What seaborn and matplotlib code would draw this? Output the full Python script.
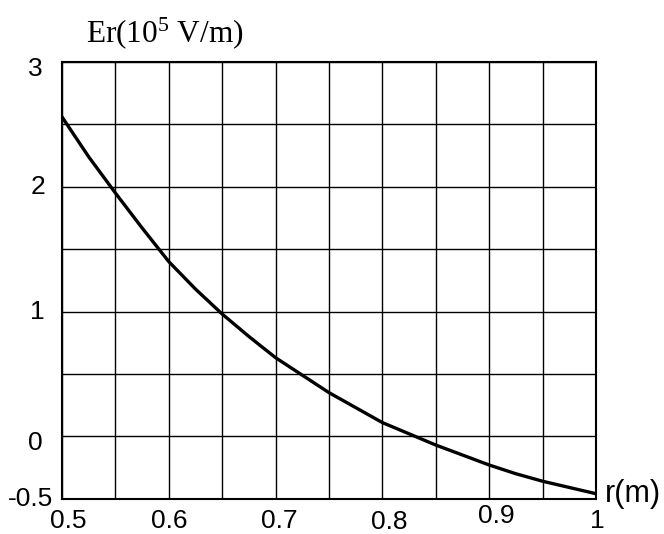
import numpy as np
import pandas as pd
import matplotlib
matplotlib.use("Agg")
import matplotlib.pyplot as plt
from matplotlib.transforms import offset_copy
import seaborn as sns

# Radial electric field versus radius
r_m = [0.500, 0.525, 0.550, 0.575, 0.600, 0.625, 0.650, 0.675, 0.700, 0.725, 0.750,
       0.775, 0.800, 0.825, 0.850, 0.875, 0.900, 0.925, 0.950, 0.975, 1.000]
er_1e5 = [2.56, 2.24, 1.95, 1.67, 1.40, 1.18, 0.98, 0.80, 0.63, 0.49, 0.35,
          0.23, 0.11, 0.02, -0.07, -0.15, -0.23, -0.30, -0.36, -0.41, -0.46]

x_tick_values = [0.5, 0.6, 0.7, 0.8, 0.9, 1.0]
x_tick_labels = ["0.5", "0.6", "0.7", "0.8", "0.9", "1"]
y_tick_values = [-0.5, 0, 1, 2, 3]
y_tick_labels = ["-0.5", "0", "1", "2", "3"]

df = pd.DataFrame({"r": r_m, "Er": er_1e5})

sns.set_style("white")
plt.rcParams["font.family"] = ["Liberation Sans", "DejaVu Sans"]
plt.rcParams["mathtext.default"] = "regular"
plt.rcParams["text.color"] = "black"

fig = plt.figure(figsize=(6.64, 5.34), dpi=100)
ax = fig.add_axes([62 / 664, 1 - 498.7 / 534, (596 - 62) / 664, (498.7 - 62) / 534])

sns.lineplot(data=df, x="r", y="Er", ax=ax, color="black", linewidth=2.4)

ax.set_xlim(0.5, 1.0)
ax.set_ylim(-0.5, 3.0)
ax.set_xticks(np.arange(0.5, 1.0001, 0.05))
ax.set_yticks(np.arange(-0.5, 3.0001, 0.5))
ax.tick_params(length=0, labelbottom=False, labelleft=False)
ax.grid(True, color="black", linewidth=1.0)
ax.set_axisbelow(True)
for s in ax.spines.values():
    s.set_color("black")
    s.set_linewidth(1.5)
ax.set_xlabel("")
ax.set_ylabel("")

# Tick labels placed with small per-label pixel offsets
x_dx = [6, 0, 4, 7, 7, 1]
x_dy = [-22.5, -22.5, -22.5, -23, -17.5, -22]
xt = ax.get_xaxis_transform()
for v, lab, dx, dy in zip(x_tick_values, x_tick_labels, x_dx, x_dy):
    tr = offset_copy(xt, fig=fig, x=dx, y=dy, units="dots")
    ax.text(v, 0, lab, transform=tr, ha="center", va="center", fontsize=19,
            color="black", clip_on=False)

y_dx = [-9, -19, -17, -17, -19]
y_dy = [0, -7, 0, 0, -7]
yt = ax.get_yaxis_transform()
for v, lab, dx, dy in zip(y_tick_values, y_tick_labels, y_dx, y_dy):
    tr = offset_copy(yt, fig=fig, x=dx, y=dy, units="dots")
    ax.text(0, v, lab, transform=tr, ha="right", va="center", fontsize=19,
            color="black", clip_on=False)

fig.text(86 / 664, 1 - 42.7 / 534, "Er(10$^5$ V/m)", ha="left", va="baseline",
         fontsize=22.5, color="black", family=["Liberation Serif", "DejaVu Serif"])
fig.text(605 / 664, 1 - 502 / 534, "r(m)", ha="left", va="baseline", fontsize=22,
         color="black")

fig.savefig("out.png", dpi=100)
